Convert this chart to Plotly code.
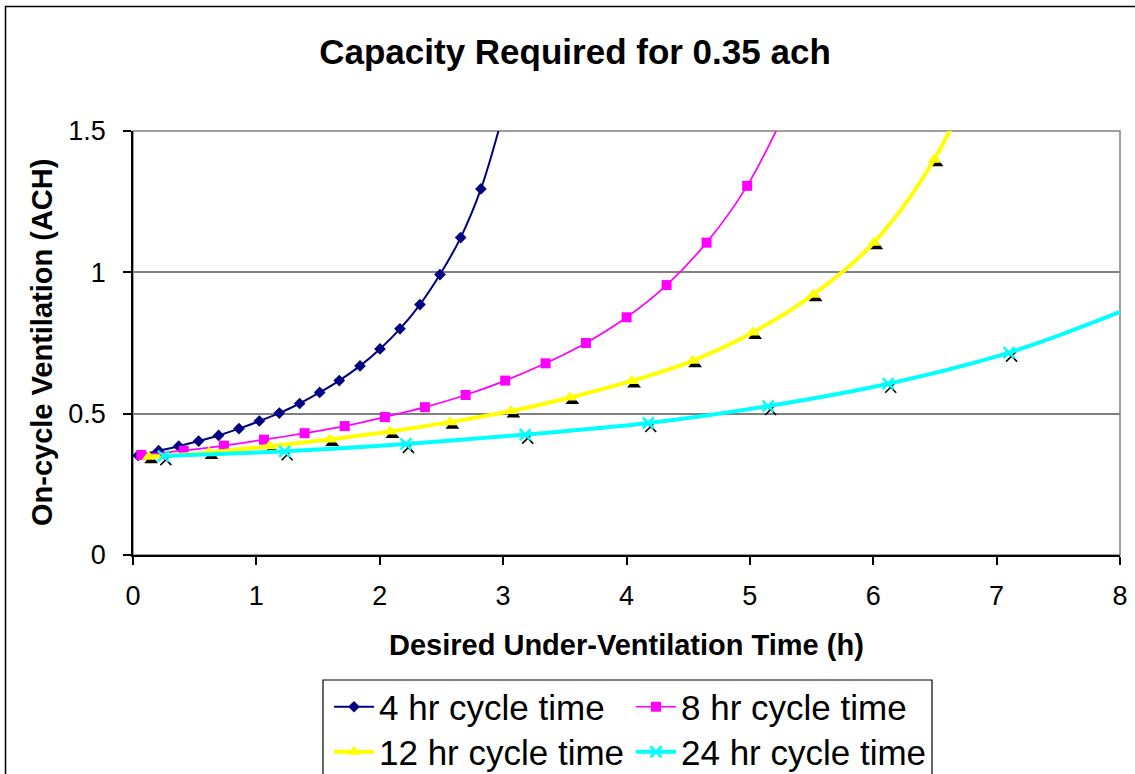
import plotly.graph_objects as go

# ---- data ----
x_4hr = [0.041, 0.208, 0.370, 0.532, 0.694, 0.859, 1.024, 1.186, 1.351, 1.513, 1.672,
         1.840, 2.002, 2.164, 2.326, 2.488, 2.656, 2.820, 2.984]
y_4hr = [0.352, 0.369, 0.385, 0.403, 0.423, 0.447, 0.474, 0.502, 0.536, 0.575, 0.617,
         0.669, 0.729, 0.800, 0.886, 0.992, 1.123, 1.295, 1.535]

x_8hr = [0.067, 0.411, 0.737, 1.062, 1.391, 1.716, 2.042, 2.366, 2.696, 3.017, 3.344,
         3.671, 4.001, 4.325, 4.649, 4.978, 5.300]
y_8hr = [0.354, 0.369, 0.387, 0.408, 0.431, 0.456, 0.488, 0.523, 0.566, 0.617, 0.678,
         0.750, 0.841, 0.955, 1.105, 1.306, 1.580]

x_12hr = [0.127, 0.616, 1.105, 1.594, 2.083, 2.569, 3.063, 3.541, 4.041, 4.536, 5.022,
          5.513, 6.005, 6.493, 6.980]
y_12hr = [0.348, 0.363, 0.385, 0.409, 0.437, 0.470, 0.509, 0.557, 0.616, 0.687, 0.787,
          0.921, 1.105, 1.398, 1.850]

x_24hr = [0.246, 1.229, 2.212, 3.179, 4.176, 5.148, 6.121, 7.101, 8.080]
y_24hr = [0.350, 0.367, 0.393, 0.426, 0.467, 0.527, 0.606, 0.716, 0.874]

series_names = ["4 hr cycle time", "8 hr cycle time", "12 hr cycle time", "24 hr cycle time"]
x_ticks = [0, 1, 2, 3, 4, 5, 6, 7, 8]
y_ticks = [0, 0.5, 1, 1.5]
y_tick_labels = ["0", "0.5", "1", "1.5"]

# ---- styling ----
W, H = 1135, 774
ML, MR, MT, MB = 133, 15, 131, 219
PW, PH = W - ML - MR, H - MT - MB
X_MAX, Y_MAX = 8, 1.5
FONT = "Arial, 'Liberation Sans', sans-serif"

# shadow offset (Excel-style marker shadow), in pixels converted to data units
SDX = 2.5 * X_MAX / PW
SDY = -3.5 * Y_MAX / PH


def px_x(px):
    return (px - ML) / PW


def px_y(py):
    return (H - MB - py) / PH


fig = go.Figure()

# 4 hr
fig.add_trace(go.Scatter(
    x=x_4hr, y=y_4hr, name=series_names[0], mode="lines+markers",
    line=dict(color="#000080", width=2, shape="spline", smoothing=1),
    marker=dict(symbol="diamond", size=9, color="#000080"),
    legend="legend"))

# 8 hr
fig.add_trace(go.Scatter(
    x=x_8hr, y=y_8hr, name=series_names[1], mode="lines+markers",
    line=dict(color="#FF00FF", width=1.7, shape="spline", smoothing=1),
    marker=dict(symbol="square", size=10, color="#FF00FF"),
    legend="legend"))

# 12 hr shadow + series
fig.add_trace(go.Scatter(
    x=[v + SDX for v in x_12hr], y=[v + SDY for v in y_12hr], mode="markers",
    marker=dict(symbol="triangle-up", size=12, color="black"),
    showlegend=False, hoverinfo="skip"))
fig.add_trace(go.Scatter(
    x=x_12hr, y=y_12hr, name=series_names[2], mode="lines+markers",
    line=dict(color="#FFFF00", width=4, shape="spline", smoothing=1),
    marker=dict(symbol="triangle-up", size=12, color="#FFFF00"),
    legend="legend2"))

# 24 hr shadow + series
fig.add_trace(go.Scatter(
    x=[v + SDX for v in x_24hr], y=[v + SDY for v in y_24hr], mode="markers",
    marker=dict(symbol="x-thin", size=11, line=dict(color="black", width=1.6)),
    showlegend=False, hoverinfo="skip"))
fig.add_trace(go.Scatter(
    x=x_24hr, y=y_24hr, name=series_names[3], mode="lines+markers",
    line=dict(color="#00FFFF", width=4, shape="spline", smoothing=1),
    marker=dict(symbol="x-thin", size=11, line=dict(color="#00FFFF", width=2.5)),
    legend="legend2"))

legend_common = dict(
    orientation="h", xref="paper", yref="paper", xanchor="left", yanchor="middle",
    font=dict(family=FONT, size=35, color="black"),
    bgcolor="rgba(0,0,0,0)", borderwidth=0,
    entrywidth=247, entrywidthmode="pixels", itemwidth=40,
)

fig.update_layout(
    width=W, height=H,
    margin=dict(l=ML, r=MR, t=MT, b=MB, autoexpand=False),
    paper_bgcolor="white", plot_bgcolor="white",
    font=dict(family=FONT, color="black"),
    title=dict(text="<b>Capacity Required for 0.35 ach</b>",
               font=dict(family=FONT, size=35, color="black"),
               x=575 / W, xref="container", xanchor="center",
               y=1 - 52 / H, yref="container", yanchor="middle"),
    xaxis=dict(range=[0, X_MAX], tickvals=x_ticks, ticks="outside", ticklen=8,
               tickcolor="black", tickwidth=1.5, showline=True, linecolor="black",
               linewidth=1.5, showgrid=False, zeroline=False,
               tickfont=dict(family=FONT, size=27, color="black"),
               ticklabelstandoff=8),
    yaxis=dict(range=[0, Y_MAX], tickvals=y_ticks, ticktext=y_tick_labels,
               ticks="outside", ticklen=8, tickcolor="black", tickwidth=1.5,
               showline=True, linecolor="black", linewidth=1.5,
               showgrid=True, gridcolor="#808080", gridwidth=1.5, zeroline=False,
               tickfont=dict(family=FONT, size=27, color="black"),
               ticklabelstandoff=12),
    legend=dict(x=px_x(329), y=px_y(707), **legend_common),
    legend2=dict(x=px_x(329), y=px_y(752), **legend_common),
    showlegend=True,
    annotations=[
        dict(text="<b>Desired Under-Ventilation Time (h)</b>", xref="paper", yref="paper",
             x=0.5, y=px_y(645), xanchor="center", yanchor="middle", showarrow=False,
             font=dict(family=FONT, size=29, color="black")),
        dict(text="<b>On-cycle Ventilation (ACH)</b>", xref="paper", yref="paper",
             x=px_x(42), y=0.5, xanchor="center", yanchor="middle", showarrow=False,
             textangle=-90, font=dict(family=FONT, size=29, color="black")),
    ],
    shapes=[
        # plot-area border (gray)
        dict(type="rect", xref="paper", yref="paper", x0=0, x1=1, y0=0, y1=1,
             line=dict(color="#808080", width=1.5), layer="below"),
        # chart-area border
        dict(type="rect", xref="paper", yref="paper", x0=px_x(5.5), x1=px_x(1150),
             y0=px_y(800), y1=px_y(6.5), line=dict(color="black", width=1.5)),
        # legend box
        dict(type="rect", xref="paper", yref="paper", x0=px_x(323), x1=px_x(932),
             y0=px_y(800), y1=px_y(680), line=dict(color="black", width=1.2)),
    ],
)

fig.write_html("out.html")
